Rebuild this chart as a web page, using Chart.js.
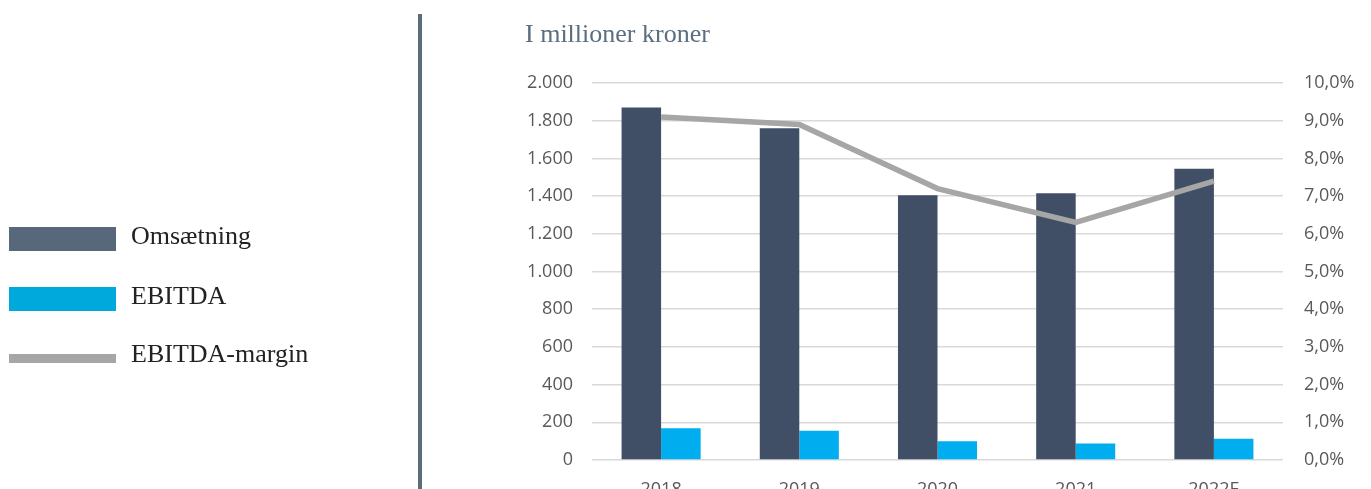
<!DOCTYPE html>
<html>
<head>
<meta charset="utf-8">
<script src="https://cdn.jsdelivr.net/npm/chart.js@4.4.0/dist/chart.umd.min.js"></script>
<style>
  html, body { margin: 0; padding: 0; width: 1371px; height: 489px; overflow: hidden; background: #fff; }
  #wrap { position: absolute; left: 0; top: 0; width: 1371px; height: 510px; }
  #divider { position: absolute; left: 418px; top: 14px; width: 4px; height: 480px; background: #5b6c7d; }
  #title { position: absolute; left: 525px; top: 19px; font-family: "Liberation Serif", serif; font-size: 26px; color: #5a6e80; white-space: nowrap; }
  .leg { position: absolute; left: 9px; width: 107px; }
  .legtxt { position: absolute; left: 131px; font-family: "Liberation Serif", serif; font-size: 26px; color: #222; white-space: nowrap; }
</style>
</head>
<body>
<div id="wrap"><canvas id="c" width="1371" height="510"></canvas></div>
<div id="divider"></div>
<div id="title">I millioner kroner</div>
<div id="legend"></div>
<script>
const categories = ["2018", "2019", "2020", "2021", "2022E"];
const omsaetning = [1870, 1760, 1405, 1415, 1545];
const ebitda = [168, 155, 99, 87, 113];
const ebitdaMargin = [9.1, 8.9, 7.2, 6.3, 7.4];
const seriesNames = ["Omsætning", "EBITDA", "EBITDA-margin"];
const leftTicks = [0, 200, 400, 600, 800, 1000, 1200, 1400, 1600, 1800, 2000];
const rightTicks = [0, 1, 2, 3, 4, 5, 6, 7, 8, 9, 10];

const colDark = "#404f66", colLight = "#00adee", colLine = "#a6a6a6";

// HTML legend
const legendItems = [
  { name: seriesNames[0], color: "#566879", top: 227, h: 24, ttop: 221 },
  { name: seriesNames[1], color: "#00a9dc", top: 287, h: 24, ttop: 281 },
  { name: seriesNames[2], color: "#a6a6a6", top: 354, h: 9, ttop: 339 }
];
const legEl = document.getElementById("legend");
legendItems.forEach(it => {
  const sw = document.createElement("div");
  sw.className = "leg";
  sw.style.top = it.top + "px"; sw.style.height = it.h + "px"; sw.style.background = it.color;
  legEl.appendChild(sw);
  const t = document.createElement("div");
  t.className = "legtxt"; t.style.top = it.ttop + "px"; t.textContent = it.name;
  legEl.appendChild(t);
});

const tickFont = { family: "'Open Sans', sans-serif", size: 18 };

new Chart(document.getElementById("c"), {
  data: {
    labels: categories,
    datasets: [
      { type: "line", label: seriesNames[2], data: ebitdaMargin, yAxisID: "y1", borderColor: colLine, backgroundColor: colLine, borderWidth: 5.5, pointRadius: 0, tension: 0, order: 0 },
      { type: "bar", label: seriesNames[0], data: omsaetning, yAxisID: "y", backgroundColor: colDark, order: 1, barPercentage: 1, categoryPercentage: 0.572 },
      { type: "bar", label: seriesNames[1], data: ebitda, yAxisID: "y", backgroundColor: colLight, order: 2, barPercentage: 1, categoryPercentage: 0.572 }
    ]
  },
  options: {
    responsive: false,
    animation: false,
    layout: { padding: { top: 83, left: 0, right: 0, bottom: 0 } },
    plugins: { legend: { display: false }, tooltip: { enabled: false }, title: { display: false } },
    scales: {
      x: {
        grid: { display: false, drawTicks: false },
        border: { display: false },
        ticks: { font: tickFont, color: "#595959", padding: 19, maxRotation: 0 },
        afterFit: s => { s.height = 50; }
      },
      y: {
        position: "left",
        min: leftTicks[0], max: leftTicks[leftTicks.length - 1],
        afterBuildTicks: s => { s.ticks = leftTicks.map(v => ({ value: v })); },
        grid: { color: "#d9d9d9", lineWidth: 1.5, drawTicks: false },
        border: { display: false },
        ticks: { font: tickFont, color: "#595959", padding: 19,
          callback: v => v.toString().replace(/\B(?=(\d{3})+(?!\d))/g, ".") },
        afterFit: s => { s.width = 592; }
      },
      y1: {
        position: "right",
        min: rightTicks[0], max: rightTicks[rightTicks.length - 1],
        afterBuildTicks: s => { s.ticks = rightTicks.map(v => ({ value: v })); },
        grid: { display: false, drawTicks: false },
        border: { display: false },
        ticks: { font: tickFont, color: "#595959", padding: 21,
          callback: v => v.toFixed(1).replace(".", ",") + "%" },
        afterFit: s => { s.width = 88; }
      }
    }
  }
});
</script>
</body>
</html>
